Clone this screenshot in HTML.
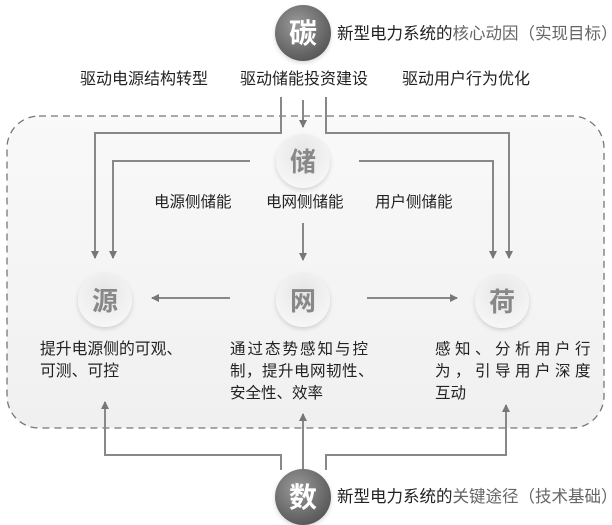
<!DOCTYPE html>
<html><head><meta charset="utf-8"><style>
html,body{margin:0;padding:0;background:#fff;}
body{width:612px;height:525px;overflow:hidden;position:relative;font-family:"Liberation Sans","Noto Sans CJK SC",sans-serif;color:#222;}
.t{position:absolute;font-size:15.5px;white-space:nowrap;line-height:22px;}
</style></head><body>
<svg width="612" height="525" style="position:absolute;left:0;top:0">
<defs>
<linearGradient id="bg" x1="0" y1="0" x2="0" y2="1"><stop offset="0" stop-color="#f9f9f9"/><stop offset="1" stop-color="#f0f0f0"/></linearGradient>
<radialGradient id="dk" cx="0.4" cy="0.35" r="0.7"><stop offset="0" stop-color="#9a9a9a"/><stop offset="1" stop-color="#555"/></radialGradient>
<radialGradient id="lt" cx="0.5" cy="0.35" r="0.65"><stop offset="0" stop-color="#e6e6e6"/><stop offset="1" stop-color="#f7f7f7"/></radialGradient>
<marker id="a" markerWidth="8" markerHeight="8" refX="7" refY="4" orient="auto" markerUnits="userSpaceOnUse"><path d="M0,0 L8,4 L0,8 z" fill="#777"/></marker>
<filter id="sh" x="-30%" y="-30%" width="160%" height="160%"><feDropShadow dx="0" dy="2" stdDeviation="2" flood-color="#000" flood-opacity="0.15"/></filter>
</defs>
<rect x="7" y="116" width="597" height="312" rx="32" fill="url(#bg)" stroke="#777" stroke-width="1.3" stroke-dasharray="7,5"/>
<g stroke="#888" stroke-width="2" fill="none">
<polyline points="281,97 281,133 95,133 95,258" marker-end="url(#a)"/>
<polyline points="326,97 326,133 509,133 509,258" marker-end="url(#a)"/>
<line x1="303" y1="100" x2="303" y2="127" marker-end="url(#a)"/>
<polyline points="250,161 113,161 113,258" marker-end="url(#a)"/>
<polyline points="359,161 493,161 493,258" marker-end="url(#a)"/>
<line x1="303" y1="223" x2="303" y2="260" marker-end="url(#a)"/>
<line x1="230" y1="298" x2="152" y2="298" marker-end="url(#a)"/>
<line x1="367" y1="298" x2="457" y2="298" marker-end="url(#a)"/>
<polyline points="281,470 281,455 105,455 105,402" marker-end="url(#a)"/>
<line x1="303" y1="470" x2="303" y2="414" marker-end="url(#a)"/>
<polyline points="326,470 326,455 506,455 506,405" marker-end="url(#a)"/>
</g>
<circle cx="303" cy="33" r="28" fill="url(#dk)" filter="url(#sh)"/>
<circle cx="303" cy="497" r="28" fill="url(#dk)" filter="url(#sh)"/>
<circle cx="303" cy="161" r="27" fill="url(#lt)" filter="url(#sh)"/>
<circle cx="105" cy="300" r="27" fill="url(#lt)" filter="url(#sh)"/>
<circle cx="303" cy="300" r="27" fill="url(#lt)" filter="url(#sh)"/>
<circle cx="502" cy="301" r="27" fill="url(#lt)" filter="url(#sh)"/>
<g font-family="Liberation Sans,Noto Sans CJK SC,sans-serif" font-weight="bold" text-anchor="middle">
<text x="303" y="43" font-size="28" fill="#fff">碳</text>
<text x="303" y="507" font-size="28" fill="#fff">数</text>
<text x="303" y="171" font-size="26" fill="#888">储</text>
<text x="105" y="310" font-size="26" fill="#888">源</text>
<text x="303" y="310" font-size="26" fill="#888">网</text>
<text x="502" y="311" font-size="26" fill="#888">荷</text>
</g>
</svg>
<div class="t" style="left:337px;top:23px;font-size:16.5px">新型电力系统的<span style="color:#666">核心动因（实现目标）</span></div>
<div class="t" style="left:337px;top:486px;font-size:16.5px">新型电力系统的<span style="color:#666">关键途径（技术基础）</span></div>
<div class="t" style="left:80px;top:69px;font-size:16px">驱动电源结构转型</div>
<div class="t" style="left:240px;top:69px;font-size:16px">驱动储能投资建设</div>
<div class="t" style="left:402px;top:69px;font-size:16px">驱动用户行为优化</div>
<div class="t" style="left:154px;top:192px">电源侧储能</div>
<div class="t" style="left:266px;top:192px">电网侧储能</div>
<div class="t" style="left:375px;top:192px">用户侧储能</div>
<div class="t" style="left:40px;top:339px;font-size:15.8px">提升电源侧的可观、<br>可测、可控</div>
<div class="t" style="left:230px;top:339px;font-size:15.5px;letter-spacing:2px">通过态势感知与控<br><span style="letter-spacing:0.5px">制，提升电网韧性、</span><br><span style="letter-spacing:0">安全性、效率</span></div>
<div class="t" style="left:435px;top:339px;font-size:15.5px;letter-spacing:4.5px">感知、分析用户行<br>为，引导用户深度<br><span style="letter-spacing:0">互动</span></div>
</body></html>
